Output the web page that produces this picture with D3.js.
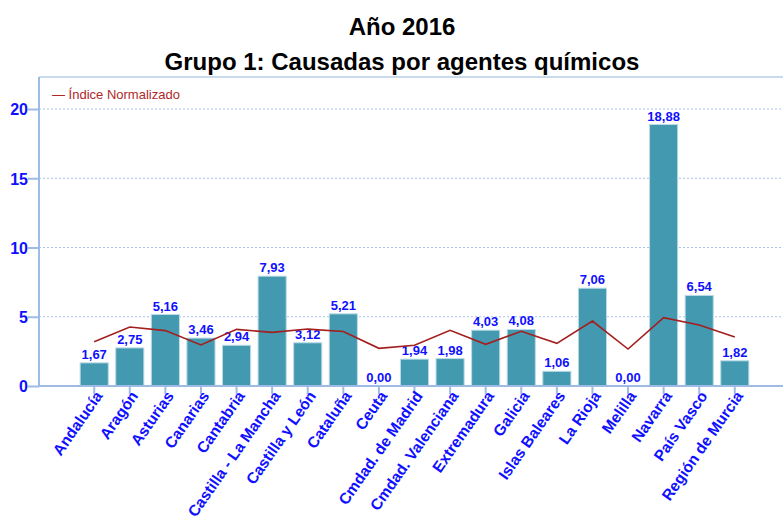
<html>
<head>
<meta charset="utf-8">
<script src="https://d3js.org/d3.v7.min.js"></script>
<style>
  body { margin: 0; background: white; }
  svg { display: block; font-family: "Liberation Sans", Arial, sans-serif; }
</style>
</head>
<body>
<svg width="783" height="521"></svg>
<script>
// chart data
var regiones = ["Andalucía", "Aragón", "Asturias", "Canarias", "Cantabria",
  "Castilla - La Mancha", "Castilla y León", "Cataluña", "Ceuta",
  "Cmdad. de Madrid", "Cmdad. Valenciana", "Extremadura", "Galicia",
  "Islas Baleares", "La Rioja", "Melilla", "Navarra", "País Vasco",
  "Región de Murcia"];
var valores = [1.67, 2.75, 5.16, 3.46, 2.94, 7.93, 3.12, 5.21, 0.00,
  1.94, 1.98, 4.03, 4.08, 1.06, 7.06, 0.00, 18.88, 6.54, 1.82];
var indiceNormalizado = [3.2, 4.26, 4.0, 2.96, 4.09, 3.87, 4.11, 3.94, 2.72,
  2.94, 4.02, 3.01, 3.95, 3.08, 4.69, 2.67, 4.93, 4.4, 3.54];
var yTicks = [0, 5, 10, 15, 20];

var svg = d3.select("svg");
var mLeft = 39, mRight = 790, mTop = 77, mBottom = 386;
var blue = "#1010ff", axisCol = "#9dbbe5";

var x = d3.scaleBand().domain(regiones).range([41, 788])
  .paddingInner(0.21).paddingOuter(1.1);
var y = d3.scaleLinear().domain([0, 20]).range([mBottom, 109]);

// titles
svg.append("text").attr("x", 402).attr("y", 35).attr("text-anchor", "middle")
  .style("font-size", "24px").style("font-weight", "bold").text("Año 2016");
svg.append("text").attr("x", 402).attr("y", 70).attr("text-anchor", "middle")
  .style("font-size", "24px").style("font-weight", "bold")
  .text("Grupo 1: Causadas por agentes químicos");

// gridlines
svg.append("g").selectAll("line").data(yTicks.filter(function(d) { return d > 0; }))
  .enter().append("line")
  .attr("x1", mLeft).attr("x2", mRight)
  .attr("y1", function(d) { return y(d); }).attr("y2", function(d) { return y(d); })
  .attr("stroke", "#a9c3e8").attr("stroke-width", 1).attr("stroke-dasharray", "2,2");

// top border
svg.append("line").attr("x1", mLeft).attr("x2", mRight).attr("y1", mTop).attr("y2", mTop)
  .attr("stroke", "#b7cde9").attr("stroke-width", 1.5);

// bars
svg.append("g").selectAll("rect").data(valores).enter().append("rect")
  .attr("x", function(d, i) { return x(regiones[i]); })
  .attr("width", x.bandwidth())
  .attr("y", function(d) { return y(d); })
  .attr("height", function(d) { return mBottom - y(d); })
  .attr("fill", "#4399b0")
  .attr("stroke", "#b9dbe6").attr("stroke-width", 1);

// bar labels
svg.append("g").selectAll("text").data(valores).enter().append("text")
  .attr("x", function(d, i) { return x(regiones[i]) + x.bandwidth() / 2; })
  .attr("y", function(d) { return y(d) - 4; })
  .attr("text-anchor", "middle")
  .style("font-size", "13px").style("font-weight", "bold").attr("fill", blue)
  .text(function(d) { return d.toFixed(2).replace(".", ","); });

// line
var linea = d3.line()
  .x(function(d, i) { return x(regiones[i]) + x.bandwidth() / 2; })
  .y(function(d) { return y(d); });
svg.append("path").datum(indiceNormalizado)
  .attr("d", linea).attr("fill", "none")
  .attr("stroke", "#a31f1f").attr("stroke-width", 1.6);

// y axis
var yAxis = svg.append("g").attr("transform", "translate(" + mLeft + ",0)")
  .call(d3.axisLeft(y).tickValues(yTicks).tickSize(11).tickPadding(0));
yAxis.select(".domain").remove();
yAxis.selectAll(".tick line").attr("stroke", axisCol).attr("stroke-width", 2);
yAxis.selectAll(".tick text").attr("x", -11).attr("dy", "0.36em")
  .attr("fill", blue).style("font-size", "16px").style("font-weight", "bold")
  .style("font-family", "Liberation Sans, Arial, sans-serif");
svg.append("line").attr("x1", mLeft).attr("x2", mLeft).attr("y1", mTop).attr("y2", mBottom)
  .attr("stroke", axisCol).attr("stroke-width", 2);

// x axis
var xAxis = svg.append("g").attr("transform", "translate(0," + mBottom + ")")
  .call(d3.axisBottom(x).tickSize(8).tickSizeOuter(0));
xAxis.select(".domain").remove();
xAxis.selectAll(".tick line").attr("stroke", axisCol).attr("stroke-width", 2);
xAxis.selectAll(".tick text")
  .attr("text-anchor", "end").attr("x", 0).attr("y", 0).attr("dy", null)
  .attr("transform", "translate(9,10) rotate(-55)")
  .attr("fill", blue).style("font-size", "15.5px").style("font-weight", "bold")
  .style("font-family", "Liberation Sans, Arial, sans-serif");
svg.append("line").attr("x1", mLeft).attr("x2", mRight).attr("y1", mBottom).attr("y2", mBottom)
  .attr("stroke", axisCol).attr("stroke-width", 2);

// legend
svg.append("text").attr("x", 52).attr("y", 99)
  .attr("fill", "#b02828").style("font-size", "13px")
  .text("— Índice Normalizado");
</script>
</body>
</html>
